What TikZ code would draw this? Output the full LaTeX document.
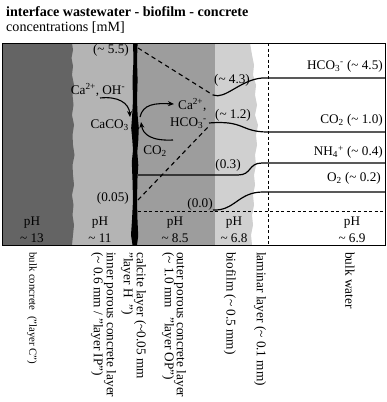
\documentclass[tikz,border=0pt]{standalone}
\usepackage{fontspec}
\setmainfont{Liberation Serif}
\usetikzlibrary{arrows.meta}
\newcommand\mytilde{\textasciitilde}
\definecolor{cdark}{HTML}{646464}
\definecolor{cinner}{HTML}{B4B4B4}
\definecolor{couter}{HTML}{9D9D9D}
\definecolor{cbio}{HTML}{D0D0D0}
\begin{document}
\begin{tikzpicture}[x=1pt,y=-1pt,
  lbl/.style={inner sep=0pt, font=\fontsize{13.2}{15}\selectfont},
  rot/.style={inner sep=0pt, font=\fontsize{13.3}{15}\selectfont, rotate=-90, anchor=west},
  curve/.style={line width=1.2pt},
  dashline/.style={line width=1.1pt, dash pattern=on 4.5pt off 3.5pt},
  thindash/.style={line width=0.6pt, dash pattern=on 3pt off 2.5pt},
  rarr/.style={-{Stealth[length=6pt,width=5pt]}, line width=1.1pt},
]
\useasboundingbox (0,0) rectangle (387,402);

% title
\node[anchor=base west, inner sep=0pt, font=\fontsize{14.1}{16}\selectfont\bfseries] (title) at (6,16.5) {interface wastewater - biofilm - concrete};
\node[anchor=base west, inner sep=0pt, font=\fontsize{14.1}{16}\selectfont] (conc) at (6,31.5) {concentrations [mM]};

% layers
\fill[white] (2,43) rectangle (385,245);
\fill[cbio] (2,43) -- (250,43) -- (252,55) -- (254,65) -- (253,75) -- (256,85) -- (255,95) -- (257,105) -- (255,115) -- (258,125) -- (256,135) -- (257,145) -- (255,155) -- (256,165) -- (254,175) -- (255,185) -- (253,195) -- (254,205) -- (252,215) -- (253,225) -- (251,235) -- (252,245) -- (2,245) -- cycle;
\fill[couter] (2,43) rectangle (215,245);
\fill[cinner] (2,43) rectangle (134,245);
\fill[cdark] (2,43) -- (72,43) -- (73,50) -- (71.5,58) -- (73,66) -- (72,75) -- (74,85) -- (72.5,95) -- (73.5,105) -- (72,115) -- (74,125) -- (72.5,135) -- (73,145) -- (74.5,155) -- (72.5,165) -- (73,175) -- (74,185) -- (72,195) -- (73.5,205) -- (72.5,215) -- (74,225) -- (73,235) -- (72,245) -- (2,245) -- cycle;
% calcite layer
\fill[black] (133,43) -- (133.5,60) -- (132.5,80) -- (133,100) -- (132,118) -- (131.2,128) -- (132.3,140) -- (133,150) -- (131.8,162) -- (132.5,180) -- (133,200) -- (132,220) -- (131,235) -- (132.5,245)
  -- (137,245) -- (138.2,236) -- (137.5,220) -- (137,200) -- (137.5,178) -- (138.3,165) -- (137.3,152) -- (138.3,140) -- (138.8,128) -- (137.6,115) -- (137,100) -- (137.6,80) -- (137,60) -- (137.6,43) -- cycle;

% thin dashed lines
\draw[thindash] (268,43) -- (268,245);
\draw[thindash] (138,211) -- (385,211);

% concentration profiles
\coordinate (h0) at (138,48);
\coordinate (h1) at (213,95);
\coordinate (h2) at (262,78);
\coordinate (h3) at (385,78);
\draw[dashline] (h0) -- (h1);
\draw[curve] (h1) .. controls (225,100) and (240,80) .. (h2) -- (h3);

\coordinate (c0) at (138,200);
\coordinate (c1) at (208,127);
\coordinate (c2) at (209,123);
\coordinate (c3) at (268,132);
\coordinate (c4) at (385,132);
\draw[dashline] (c0) -- (c1);
\draw[curve] (c2) .. controls (245,120) and (240,132) .. (c3) -- (c4);

\coordinate (n0) at (138,175);
\coordinate (n1) at (238,175);
\coordinate (n2) at (262,163);
\coordinate (n3) at (385,163);
\draw[curve] (n0) -- (n1) .. controls (252,175) and (248,163) .. (n2) -- (n3);

\coordinate (o0) at (213,210);
\coordinate (o1) at (263,192);
\coordinate (o2) at (385,192);
\draw[curve] (o0) .. controls (235,211) and (238,192) .. (o1) -- (o2);

% box border
\draw[line width=0.7pt] (2,43) rectangle (385,245);

% value labels
\node[lbl, anchor=east] (v55) at (129,50) {(\mytilde\ 5.5)};
\node[lbl, anchor=east] (v005) at (129,198) {(0.05)};
\node[lbl] (v43) at (232,80) {(\mytilde\ 4.3)};
\node[lbl] (v12) at (233,115) {(\mytilde\ 1.2)};
\node[lbl] (v03) at (228,165) {(0.3)};
\node[lbl] (v00) at (200,204) {(0.0)};
\node[lbl, anchor=east] (rh) at (383,66) {HCO\textsubscript{3}\textsuperscript{-} (\mytilde\ 4.5)};
\node[lbl, anchor=east] (rc) at (383,120) {CO\textsubscript{2} (\mytilde\ 1.0)};
\node[lbl, anchor=east] (rn) at (383,152) {NH\textsubscript{4}\textsuperscript{+} (\mytilde\ 0.4)};
\node[lbl, anchor=east] (ro) at (381,178) {O\textsubscript{2} (\mytilde\ 0.2)};

% reaction labels and arrows
\node[lbl] (caoh) at (98,90) {Ca\textsuperscript{2+}, OH\textsuperscript{-}};
\node[lbl, anchor=east] (caco) at (129,125) {CaCO\textsubscript{3}};
\node[lbl, anchor=west] (ca2) at (178,105) {Ca\textsuperscript{2+},};
\node[lbl, anchor=west] (hco) at (170,123) {HCO\textsubscript{3}\textsuperscript{-}};
\node[lbl] (co2) at (155,151) {CO\textsubscript{2}};
\coordinate (a1s) at (100,98);
\coordinate (a1e) at (130,117);
\coordinate (a2s) at (140,117);
\coordinate (a2e) at (174,104);
\coordinate (a3s) at (173,140);
\coordinate (a3e) at (141,122);
\draw[rarr] (a1s) .. controls (118,96) and (129,103) .. (a1e);
\draw[rarr] (a2s) .. controls (143,104) and (155,103) .. (a2e);
\draw[rarr] (a3s) .. controls (152,141) and (143,135) .. (a3e);

% pH labels
\foreach \n/\x/\v in {pc/32/13, pi/100/11, po/175/8.5, pb/234/6.8, pw/352/6.9} {
  \node[lbl] (\n a) at (\x,223) {pH};
  \node[lbl] (\n b) at (\x,238) {\mytilde\ \v};
}

% rotated layer names
\node[rot, font=\fontsize{10.8}{12}\selectfont] (lC) at (32,252) {bulk concrete\ \ ("layer C")};
\node[rot] (lIP2) at (97,252) {(\mytilde\ 0.6 mm / "layer IP")};
\node[rot] (lIP1) at (110,252) {inner porous concrete layer};
\node[rot] (lH2) at (127,252) {"layer H\hspace{7pt}")};
\node[rot] (lH1) at (140,252) {calcite layer (\mytilde 0.05 mm};
\node[rot] (lOP2) at (168,252) {(\mytilde\ 1.0 mm\hspace{6pt} "layer OP")};
\node[rot] (lOP1) at (180,252) {outer porous concrete layer};
\node[rot] (lB) at (230,252) {biofilm (\mytilde\ 0.5 mm)};
\node[rot] (lL) at (260,252) {laminar layer (\mytilde\ 0.1 mm)};
\node[rot] (lW) at (350,252) {bulk water};
\end{tikzpicture}
\end{document}
